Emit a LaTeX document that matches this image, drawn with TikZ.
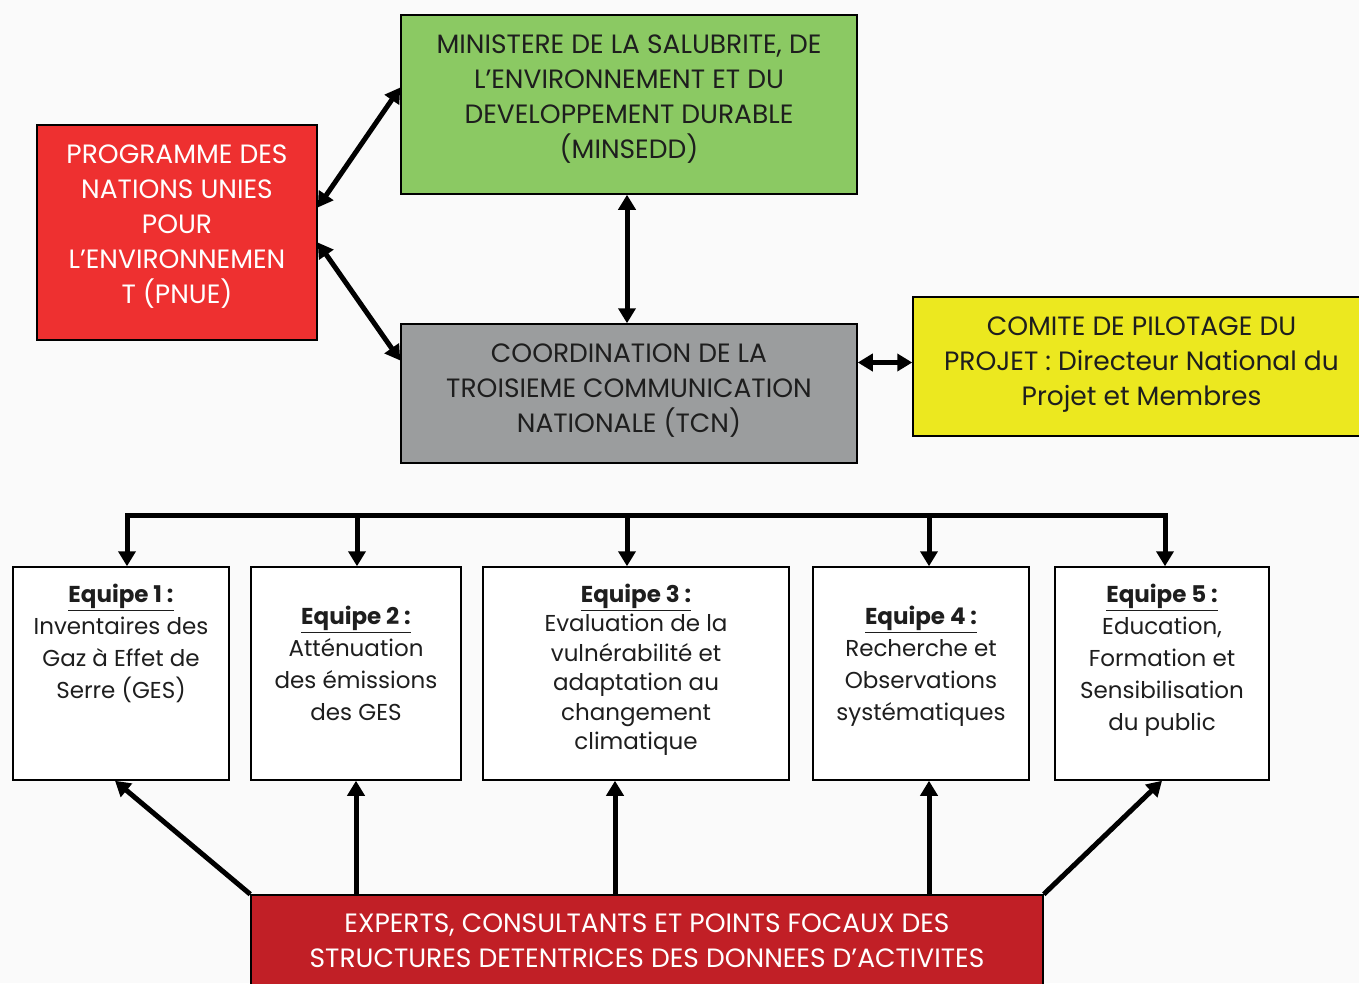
\documentclass[tikz,border=0pt]{standalone}
\usepackage{fontspec}
\setmainfont{Poppins}
\usetikzlibrary{arrows.meta,positioning,calc}
\definecolor{fondgris}{HTML}{FAFAFA}
\definecolor{vertmin}{HTML}{8BC963}
\definecolor{rougepnue}{HTML}{EE3030}
\definecolor{griscoord}{HTML}{9B9D9E}
\definecolor{jaunecom}{HTML}{ECE81F}
\definecolor{rougeexp}{HTML}{C11F26}
\definecolor{texte}{HTML}{1E1E1E}

\begin{document}
\begin{tikzpicture}[
    x=1pt, y=-1pt,
    bloc/.style={draw=black, line width=1.5pt, inner sep=0pt},
    grand/.style={font=\fontsize{26.5}{35}\selectfont, align=center},
    petit/.style={font=\fontsize{23}{32}\selectfont, align=center, anchor=north, text=texte},
    fleche/.style={line width=5pt, {Triangle[length=15pt,width=17pt]}-{Triangle[length=15pt,width=17pt]}},
    versbas/.style={line width=5pt, -{Triangle[length=15pt,width=17pt]}}
    ]
  \useasboundingbox (0,0) rectangle (1359,983);
  \clip (0,0) rectangle (1359,983);
  \fill[fondgris] (0,0) rectangle (1359,983);

  % niveau de pilotage
  \node [bloc, fill=vertmin, minimum width=456, minimum height=179] (minsedd) at (629,104.5) {};
  \node [bloc, fill=rougepnue, minimum width=280, minimum height=215] (pnue) at (177,232.5) {};
  \node [bloc, fill=griscoord, minimum width=456, minimum height=139] (tcn) at (629,393.5) {};
  \node [bloc, fill=jaunecom, minimum width=457, minimum height=139] (comite) at (1141.5,366.5) {};

  \node [grand, text=texte] (minseddt) at ([yshift=5pt]minsedd.center)
    {MINISTERE DE LA SALUBRITE, DE\\ L’ENVIRONNEMENT ET DU\\ DEVELOPPEMENT DURABLE\\ (MINSEDD)};
  \node [grand, text=white] (pnuet) at ([yshift=6pt]pnue.center)
    {PROGRAMME DES\\ NATIONS UNIES\\ POUR\\ L’ENVIRONNEMEN\\ T (PNUE)};
  \node [grand, text=texte] (tcnt) at ([yshift=3pt]tcn.center)
    {COORDINATION DE LA\\ TROISIEME COMMUNICATION\\ NATIONALE (TCN)};
  \node [grand, text=texte] (comitet) at ([yshift=2pt]comite.center)
    {COMITE DE PILOTAGE DU\\ PROJET : Directeur National du\\ Projet et Membres};

  % equipes
  \node [bloc, fill=white, minimum width=216, minimum height=213] (e1) at (121,673.5) {};
  \node [bloc, fill=white, minimum width=210, minimum height=213] (e2) at (356,673.5) {};
  \node [bloc, fill=white, minimum width=306, minimum height=213] (e3) at (636,673.5) {};
  \node [bloc, fill=white, minimum width=216, minimum height=213] (e4) at (921,673.5) {};
  \node [bloc, fill=white, minimum width=214, minimum height=213] (e5) at (1162,673.5) {};

  \node [petit] (e1t) at ([yshift=-14pt]e1.north)
    {\underline{\textbf{Equipe 1 :}}\\ Inventaires des\\ Gaz à Effet de\\ Serre (GES)};
  \node [petit] (e2t) at ([yshift=-36pt]e2.north)
    {\underline{\textbf{Equipe 2 :}}\\ Atténuation\\ des émissions\\ des GES};
  \node [petit, font=\fontsize{23}{29.5}\selectfont] (e3t) at ([yshift=-14pt]e3.north)
    {\underline{\textbf{Equipe 3 :}}\\ Evaluation de la\\ vulnérabilité et\\ adaptation au\\ changement\\ climatique};
  \node [petit] (e4t) at ([yshift=-36pt]e4.north)
    {\underline{\textbf{Equipe 4 :}}\\ Recherche et\\ Observations\\ systématiques};
  \node [petit] (e5t) at ([yshift=-14pt]e5.north)
    {\underline{\textbf{Equipe 5 :}}\\ Education,\\ Formation et\\ Sensibilisation\\ du public};

  \node [bloc, fill=rougeexp, minimum width=792, minimum height=92] (experts) at (647,941) {};
  \node [grand, text=white] (expertst) at (experts.center)
    {EXPERTS, CONSULTANTS ET POINTS FOCAUX DES\\ STRUCTURES DETENTRICES DES DONNEES D’ACTIVITES};

  % liaisons du haut
  \draw [fleche] ([yshift=25pt]pnue.east) -- ([yshift=17pt]minsedd.west);
  \draw [fleche] ([yshift=-10pt]pnue.east) -- ([yshift=33pt]tcn.west);
  \draw [fleche] ([xshift=-2pt]minsedd.south) -- ([xshift=-2pt]tcn.south |- tcn.north);
  \coordinate (t1) at ([yshift=31pt]tcn.east);
  \draw [fleche] (t1) -- (t1 -| comite.west);

  % barre de distribution
  \coordinate (b1) at (127,515);
  \coordinate (b2) at (357,515);
  \coordinate (b3) at (627,515);
  \coordinate (b4) at (929,515);
  \coordinate (b5) at (1165,515);
  \draw [line width=5pt, line cap=rect] (b1) -- (b5);
  \draw [versbas] (b1) -- (b1 |- e1.north);
  \draw [versbas] (b2) -- (b2 |- e2.north);
  \draw [versbas] (b3) -- (b3 |- e3.north);
  \draw [versbas] (b4) -- (b4 |- e4.north);
  \draw [versbas] (b5) -- (b5 |- e5.north);

  % experts vers equipes
  \draw [versbas] (experts.north west) -- ([xshift=-6pt]e1.south);
  \draw [versbas] (e2.south |- experts.north) -- (e2.south);
  \draw [versbas] ([xshift=-21pt]e3.south |- experts.north) -- ([xshift=-21pt]e3.south);
  \draw [versbas] ([xshift=8pt]e4.south |- experts.north) -- ([xshift=8pt]e4.south);
  \draw [versbas] (experts.north east) -- (e5.south);
\end{tikzpicture}
\end{document}
